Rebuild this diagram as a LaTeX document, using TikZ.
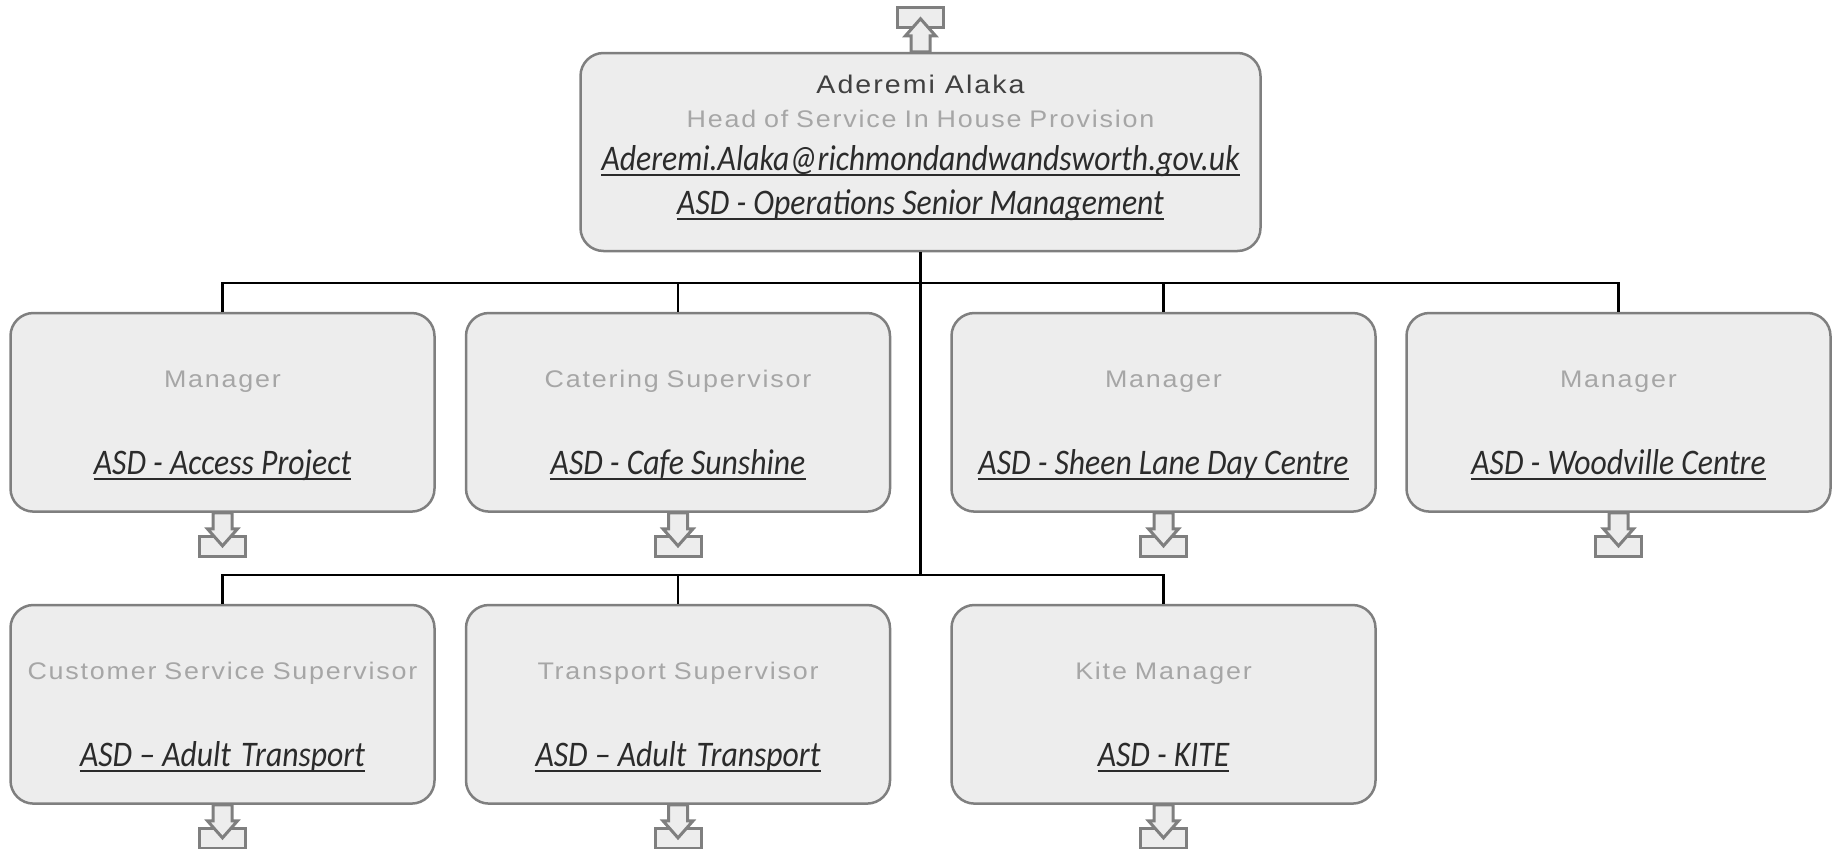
\documentclass[tikz,border=0pt]{standalone}
\usepackage{fontspec}
\usetikzlibrary{calc}
\newfontfamily\ttlfont{Liberation Sans}[FakeStretch=1.12, LetterSpace=7.5, WordSpace=0.85]
\newfontfamily\nmfont{Liberation Sans}[FakeStretch=1.12, LetterSpace=8]
\newfontfamily\itfont{Carlito}[FakeStretch=0.88]
\definecolor{boxfill}{HTML}{EDEDED}
\definecolor{boxedge}{HTML}{7F7F7F}
\definecolor{ttlgray}{HTML}{A6A6A6}
\definecolor{namegray}{HTML}{404040}
\definecolor{itdark}{HTML}{2B2B2B}
\tikzset{
  box/.style={draw=boxedge, fill=boxfill, line width=2.5pt, rounded corners=23pt,
    minimum width=424pt, minimum height=198.6pt, inner sep=0pt},
  topbox/.style={box, minimum width=680pt, minimum height=198pt},
  ttl/.style={inner sep=0pt, text=ttlgray, font=\ttlfont\fontsize{24}{28}\selectfont},
  nm/.style={inner sep=0pt, text=namegray, font=\nmfont\fontsize{25.5}{29}\selectfont},
  itl/.style={inner sep=0pt, text=itdark, font=\itfont\itshape\fontsize{36}{40}\selectfont},
  ul/.style={draw=itdark, line width=1.7pt},
  conn/.style={draw=black, line width=2.3pt},
  icon/.style={draw=boxedge, fill=boxfill, line width=3pt, line join=miter},
  downicon/.pic={
    \draw[icon] (-23,24) rectangle (23,44);
    \draw[icon] (-9.5,0) -- (-9.5,16) -- (-15,16) -- (0,33) -- (15,16) -- (9.5,16) -- (9.5,0) -- cycle;
  },
  upicon/.pic={
    \draw[icon] (-23,-24) rectangle (23,-44);
    \draw[icon] (-9.5,0) -- (-9.5,-16) -- (-15,-16) -- (0,-33) -- (15,-16) -- (9.5,-16) -- (9.5,0) -- cycle;
  }
}
\newcommand\obox[5]{%
  \node[box] (#1) at (#2,#3) {};
  \node[ttl, anchor=base] (#1t) at ($(#1.north)+(0,75.5)$) {#4};
  \node[itl, anchor=base] (#1u) at ($(#1.north)+(0,163)$) {#5};
  \draw[ul] ($(#1u.base west)+(0,4.5)$) -- ($(#1u.base east)+(0,4.5)$);
  \pic at (#1.south) {downicon};
}
\begin{document}
\begin{tikzpicture}[x=1pt,y=-1pt]
\useasboundingbox (0,0) rectangle (1832,849);
% top box
\node[topbox] (top) at (920.5,152) {};
\node[nm, anchor=base] (topn) at ($(top.north)+(0,41.5)$) {Aderemi Alaka};
\node[ttl, anchor=base] (topt) at ($(top.north)+(0,75.5)$) {Head of Service In House Provision};
\node[itl, anchor=base] (tope) at ($(top.north)+(0,118.5)$) {Aderemi.Alaka@richmondandwandsworth.gov.uk};
\node[itl, anchor=base] (topu) at ($(top.north)+(0,163)$) {ASD - Operations Senior Management};
\draw[ul] ($(tope.base west)+(0,4.5)$) -- ($(tope.base east)+(0,4.5)$);
\draw[ul] ($(topu.base west)+(0,4.5)$) -- ($(topu.base east)+(0,4.5)$);
\pic at (top.north) {upicon};
% row 1
\obox{a}{222.5}{412.3}{Manager}{ASD - Access Project}
\obox{b}{678}{412.3}{Catering Supervisor}{ASD - Cafe Sunshine}
\obox{c}{1163.5}{412.3}{Manager}{ASD - Sheen Lane Day Centre}
\obox{d}{1618.5}{412.3}{Manager}{ASD - Woodville Centre}
% row 2
\obox{e}{222.5}{704.3}{Customer Service Supervisor}{ASD – Adult\hspace{3pt} Transport}
\obox{f}{678}{704.3}{Transport Supervisor}{ASD – Adult\hspace{3pt} Transport}
\obox{g}{1163.5}{704.3}{Kite Manager}{ASD - KITE}
% connectors
\foreach \n in {a,b,c,d}{\draw[conn] (top.south) -- ++(0,30.5) -| (\n.north);}
\foreach \n in {e,f,g}{\draw[conn] (top.south) -- ++(0,322.5) -| (\n.north);}
\end{tikzpicture}
\end{document}
